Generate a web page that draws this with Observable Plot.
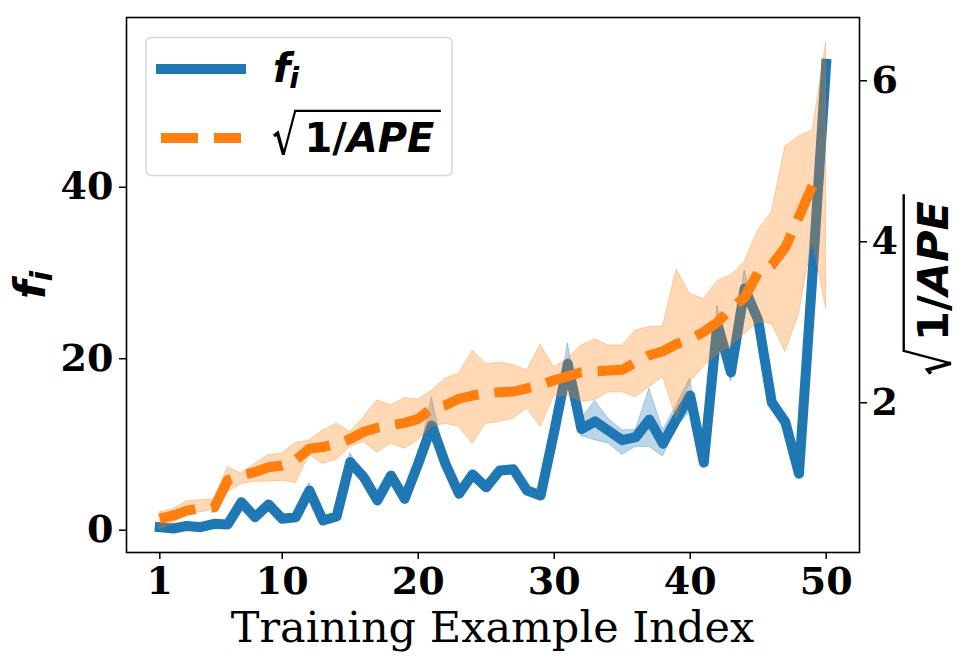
<!DOCTYPE html>
<html>
<head>
<meta charset="utf-8">
<script src="https://cdn.jsdelivr.net/npm/d3@7"></script>
<script src="https://cdn.jsdelivr.net/npm/@observablehq/plot@0.6"></script>
<style>
  html, body { margin: 0; padding: 0; background: #fff; }
  #chart { position: relative; width: 969px; height: 663px; }
</style>
</head>
<body>
<div id="chart"></div>
<script>
// ---- data ----
const exampleIndex = [1,2,3,4,5,6,7,8,9,10,11,12,13,14,15,16,17,18,19,20,21,22,23,24,25,26,27,28,29,30,31,32,33,34,35,36,37,38,39,40,41,42,43,44,45,46,47,48,49,50];

// f_i (left axis): mean line and band
const fMean = [0.35,0.2,0.5,0.35,0.75,0.67,3.27,1.52,3.0,1.33,1.52,4.63,1.13,1.6,7.94,6.18,3.47,6.38,3.66,7.75,12.2,7.75,4.25,6.5,5.0,6.97,7.1,4.63,4.05,11.5,19.4,11.8,12.7,11.6,10.5,10.85,12.9,10.1,13.0,15.7,7.9,24.1,18.4,28.2,24.5,14.9,12.6,6.6,30.0,54.4];
const fLow  = [0.1,0.0,0.3,0.15,0.5,0.45,3.0,1.3,2.75,1.1,1.3,4.3,0.9,1.35,7.5,5.9,3.2,6.1,3.4,7.45,10.5,7.2,4.0,6.2,4.75,6.6,6.7,4.35,3.8,11.2,17.5,11.0,10.5,10.1,8.8,9.7,9.7,8.6,12.0,13.8,7.6,23.5,17.3,27.0,24.0,14.0,12.0,6.3,29.5,54.0];
const fHigh = [0.6,0.45,0.75,0.6,1.0,0.9,3.55,1.75,3.25,1.55,1.75,5.5,1.35,1.85,9.0,6.45,3.75,6.65,3.9,8.05,15.5,8.3,4.5,6.8,5.25,7.4,7.5,4.9,4.3,11.8,21.8,13.0,15.1,13.0,11.65,11.7,16.5,11.65,14.55,17.7,8.2,26.2,19.0,30.3,25.0,15.2,12.9,6.9,30.5,55.0];

// sqrt(1/APE) (right axis): mean line and band
const rMean = [0.56,0.60,0.66,0.69,0.70,1.04,1.10,1.14,1.20,1.22,1.29,1.43,1.45,1.49,1.55,1.64,1.69,1.72,1.75,1.80,1.93,1.97,2.05,2.09,2.12,2.13,2.14,2.18,2.22,2.28,2.33,2.38,2.39,2.40,2.41,2.50,2.59,2.64,2.73,2.79,2.88,3.00,3.17,3.31,3.62,3.71,3.93,4.31,4.70,4.80];
const rLow  = [0.43,0.50,0.62,0.64,0.67,0.89,0.99,1.02,1.02,1.03,1.00,1.35,1.24,1.29,1.45,1.51,1.38,1.49,1.43,1.53,1.70,1.74,1.70,1.49,1.74,1.76,1.80,1.93,1.70,2.08,2.09,2.01,2.03,2.13,2.13,2.07,2.19,2.32,1.80,2.25,2.45,2.60,2.70,2.85,3.00,2.98,2.63,3.10,4.02,3.17];
const rHigh = [0.64,0.68,0.78,0.79,0.80,1.20,1.12,1.24,1.35,1.37,1.50,1.53,1.66,1.74,1.64,1.82,2.03,1.97,2.06,2.04,2.15,2.30,2.36,2.65,2.48,2.50,2.47,2.40,2.72,2.44,2.55,2.71,2.79,2.71,2.71,2.90,2.94,2.95,3.66,3.35,3.29,3.51,3.58,3.75,4.14,4.37,5.18,5.31,5.38,6.48];

// ticks
const xTicks = [1,10,20,30,40,50];
const leftTicks = [0,20,40];
const rightTicks = [2,4,6];

// axis domains (matplotlib-like 5% margins)
const xDomain = [-1.45, 52.45];
const leftDomain = [-2.6, 59.8];
const rightDomain = [0.14, 6.786];

const blue = "#1f77b4";
const orange = "#ff7f0e";

// map right-axis values into left-axis units (twin axis)
const kR = (leftDomain[1] - leftDomain[0]) / (rightDomain[1] - rightDomain[0]);
const toLeft = v => leftDomain[0] + (v - rightDomain[0]) * kR;
const fromLeft = v => rightDomain[0] + (v - leftDomain[0]) / kR;

const rows = exampleIndex.map((x, i) => ({
  x,
  f: fMean[i], fLo: fLow[i], fHi: fHigh[i],
  r: toLeft(rMean[i]), rLo: toLeft(rLow[i]), rHi: toLeft(rHigh[i])
}));

const tickFont = {fontFamily: "DejaVu Serif", fontWeight: "bold", fontSize: 38};

const plot = Plot.plot({
  width: 969,
  height: 663,
  marginLeft: 126,
  marginRight: 110,
  marginTop: 17,
  marginBottom: 111,
  x: {domain: xDomain},
  y: {domain: leftDomain},
  style: {fontFamily: "DejaVu Serif", fontWeight: "bold", fontSize: "38px", color: "#000", background: "#fff", overflow: "visible"},
  marks: [
    Plot.areaY(rows, {x: "x", y1: "fLo", y2: "fHi", fill: blue, fillOpacity: 0.3, stroke: blue, strokeOpacity: 0.3, strokeWidth: 1}),
    Plot.lineY(rows, {x: "x", y: "f", stroke: blue, strokeWidth: 10, strokeLinejoin: "round", strokeLinecap: "square"}),
    Plot.areaY(rows, {x: "x", y1: "rLo", y2: "rHi", fill: orange, fillOpacity: 0.3, stroke: orange, strokeOpacity: 0.3, strokeWidth: 1}),
    Plot.lineY(rows, {x: "x", y: "r", stroke: orange, strokeWidth: 10, strokeDasharray: "37,16", strokeLinejoin: "round", strokeLinecap: "butt"}),
    Plot.frame({stroke: "#000", strokeWidth: 1.6}),
    Plot.axisX({ticks: xTicks, tickSize: 7, tickPadding: 8, label: null, strokeWidth: 1.5, ...tickFont}),
    Plot.axisY({ticks: leftTicks, tickSize: 7, tickPadding: 6, label: null, strokeWidth: 1.5, ...tickFont}),
    Plot.axisY(rightTicks.map(toLeft), {anchor: "right", tickSize: 7, tickPadding: 5, label: null, strokeWidth: 1.5,
      tickFormat: d => String(Math.round(fromLeft(d))), ...tickFont})
  ]
});

document.getElementById("chart").appendChild(plot);
const svg = d3.select(plot);
const mathFont = "DejaVu Sans";

// f_i math label
function fSub(g, size, anchor) {
  const t = g.append("text")
    .attr("text-anchor", anchor)
    .attr("font-family", mathFont).attr("font-weight", "bold").attr("font-style", "italic")
    .attr("font-size", size).attr("fill", "#000");
  t.append("tspan").text("f");
  t.append("tspan").attr("font-size", size * 0.72).attr("dy", size * 0.16).attr("dx", -size * 0.03).text("i");
  return t;
}

// sqrt(1/APE) math label, origin at baseline start of radical; returns total length
function sqrtLabel(g, size) {
  const bodyX = size * 0.76;
  const body = g.append("text")
    .attr("x", bodyX).attr("y", 0)
    .attr("text-anchor", "start")
    .attr("font-family", mathFont).attr("font-weight", "bold")
    .attr("font-size", size).attr("fill", "#000");
  body.append("tspan").attr("font-style", "normal").text("1/");
  body.append("tspan").attr("font-style", "italic").text("APE");
  const w = body.node().getComputedTextLength();
  const end = bodyX + w + size * 0.16;
  const top = -1.03 * size;
  g.append("path")
    .attr("d", `M0,${-0.4 * size} L${0.09 * size},${-0.47 * size} L${0.24 * size},${0.07 * size}`)
    .attr("fill", "none").attr("stroke", "#000").attr("stroke-width", size * 0.085).attr("stroke-linejoin", "miter");
  g.append("path")
    .attr("d", `M${0.24 * size},${0.07 * size} L${0.53 * size},${top} L${end},${top}`)
    .attr("fill", "none").attr("stroke", "#000").attr("stroke-width", size * 0.055);
  return end;
}

// x label
svg.append("text")
  .attr("x", (126 + 859) / 2).attr("y", 642)
  .attr("text-anchor", "middle")
  .attr("font-family", "DejaVu Serif").attr("font-weight", "normal").attr("font-size", 43)
  .attr("fill", "#000")
  .text("Training Example Index");

// left y label
const yl = svg.append("g").attr("transform", "translate(45,285) rotate(-90)");
fSub(yl, 43, "middle");

// right y label
const yr = svg.append("g");
const rl = sqrtLabel(yr, 43);
yr.attr("transform", `translate(948,${284 + rl / 2}) rotate(-90)`);

// legend
const lg = svg.append("g");
lg.append("rect")
  .attr("x", 146).attr("y", 37.5).attr("width", 306).attr("height", 138).attr("rx", 5)
  .attr("fill", "#fff").attr("fill-opacity", 0.8)
  .attr("stroke", "#d6d6d6").attr("stroke-width", 1.5);
lg.append("line")
  .attr("x1", 161).attr("x2", 241).attr("y1", 69).attr("y2", 69)
  .attr("stroke", blue).attr("stroke-width", 10).attr("stroke-linecap", "square");
lg.append("line")
  .attr("x1", 161).attr("x2", 241).attr("y1", 138).attr("y2", 138)
  .attr("stroke", orange).attr("stroke-width", 10).attr("stroke-dasharray", "37,16");
const lf = lg.append("g").attr("transform", "translate(273,82)");
fSub(lf, 40, "start");
const ls = lg.append("g").attr("transform", "translate(274,152)");
sqrtLabel(ls, 40);
</script>
</body>
</html>
